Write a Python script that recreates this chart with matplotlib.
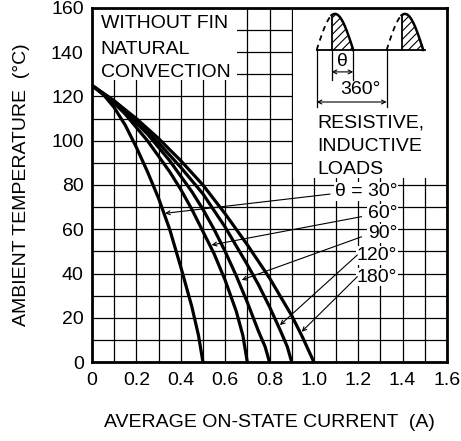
import numpy as np
import matplotlib.pyplot as plt
from matplotlib.patches import Rectangle

plt.rcParams['font.family'] = ['Liberation Sans', 'DejaVu Sans']
plt.rcParams['hatch.linewidth'] = 0.8

# curves: average on-state current (A) vs ambient temp (C)
current_30 = [0, .05, .1, .15, .2, .25, .3, .35, .4, .45, .48, .5]
temp_30 = [125, 121, 115, 107, 97, 86, 74, 60, 43, 25, 12, 0]

current_60 = [0, .05, .1, .15, .2, .25, .3, .35, .4, .45, .5, .55, .6, .65, .68, .7]
temp_60 = [125, 121, 117, 112, 106, 100, 93, 86, 78, 69, 59, 49, 37, 23, 12, 0]

current_90 = [0, .05, .1, .15, .2, .25, .3, .35, .4, .45, .5, .55, .6, .65, .7, .75, .78, .8]
temp_90 = [125, 121, 117, 113, 108, 103, 97, 91, 84, 77, 69, 60, 50, 39, 27, 14, 7, 0]

current_120 = [0, .1, .2, .3, .4, .5, .6, .7, .75, .8, .85, .88, .9]
temp_120 = [125, 118, 109, 99, 88, 76, 61, 44, 35, 25, 14, 7, 0]

current_180 = [0, .1, .2, .3, .4, .5, .6, .7, .8, .9, .95, 1.0]
temp_180 = [125, 118, 110, 101, 91, 80, 67, 53, 38, 21, 11, 0]

angle_labels = ['θ = 30°', '60°', '90°', '120°', '180°']
label_y = [77, 67.3, 58, 48.2, 38.4]
leader_start = [(1.073, 75.9), (1.215, 65.7), (1.215, 56.6), (1.196, 48.4), (1.196, 38.6)]
leader_tip = [(0.329, 67.2), (0.539, 52.9), (0.675, 37.1), (0.847, 16.7), (0.945, 13.7)]

fig = plt.figure(figsize=(4.61, 4.41), dpi=100)
ax = fig.add_axes([0.1996, 0.179, 0.77, 0.803])

ax.set_xlim(0, 1.6)
ax.set_ylim(0, 160)
ax.set_xticks(np.arange(0, 1.61, 0.2))
ax.set_xticklabels(['0', '0.2', '0.4', '0.6', '0.8', '1.0', '1.2', '1.4', '1.6'])
ax.set_xticks(np.arange(0, 1.61, 0.1), minor=True)
ax.set_yticks(np.arange(0, 161, 20))
ax.set_yticks(np.arange(0, 161, 10), minor=True)
ax.set_axisbelow(True)
ax.grid(which='both', color='black', lw=0.9)
ax.tick_params(which='both', length=0, labelsize=14)
ax.tick_params(axis='x', pad=7)
ax.tick_params(axis='y', pad=6)
for s in ax.spines.values():
    s.set_linewidth(2.0)

ax.set_xlabel('AVERAGE ON-STATE CURRENT  (A)', fontsize=14, labelpad=18)
ax.set_ylabel('AMBIENT TEMPERATURE  (°C)', fontsize=14, labelpad=15)

# white areas that hide the grid behind the notes
ax.add_patch(Rectangle((0, 127.5), 0.655, 32.5, facecolor='white', edgecolor='none', zorder=1))
ax.add_patch(Rectangle((0.905, 83), 0.695, 77, facecolor='white', edgecolor='none', zorder=1))

for cx, ty in [(current_30, temp_30), (current_60, temp_60), (current_90, temp_90),
               (current_120, temp_120), (current_180, temp_180)]:
    ax.plot(cx, ty, color='black', lw=2.3, zorder=3, solid_capstyle='butt')

ax.text(0.039, 152.8, 'WITHOUT FIN', fontsize=14, va='center', zorder=4)
ax.text(0.039, 141.0, 'NATURAL', fontsize=14, va='center', zorder=4)
ax.text(0.039, 130.8, 'CONVECTION', fontsize=14, va='center', zorder=4)

ax.text(1.014, 108, 'RESISTIVE,', fontsize=14, va='center', zorder=4)
ax.text(1.014, 97.6, 'INDUCTIVE', fontsize=14, va='center', zorder=4)
ax.text(1.014, 86.8, 'LOADS', fontsize=14, va='center', zorder=4)

for lab, yy, st, tp in zip(angle_labels, label_y, leader_start, leader_tip):
    ax.text(1.375, yy, lab, fontsize=14, ha='right', va='center', zorder=3,
            bbox=dict(facecolor='white', edgecolor='none', pad=0.6))
    ax.annotate('', xy=tp, xytext=st, zorder=4,
                arrowprops=dict(arrowstyle='->', lw=0.8, color='black',
                                shrinkA=0, shrinkB=0, mutation_scale=7))

# conduction angle sketch
base = 141.0
height = 16.3
width = 0.165
for x0 in [1.0126, 1.328]:
    xc = x0 + 0.0676
    xs = np.linspace(x0, xc, 30)
    ax.plot(xs, base + height * np.sin(np.pi * (xs - x0) / width),
            color='black', lw=1.3, ls=(0, (3, 2.5)), zorder=5)
    xh = np.linspace(xc, x0 + width, 40)
    yh = base + height * np.sin(np.pi * (xh - x0) / width)
    ax.plot(xh, yh, color='black', lw=1.8, zorder=5)
    ax.fill_between(xh, base, yh, facecolor='none', edgecolor='black',
                    hatch='////', lw=0, zorder=5)
    ax.plot([xc, xc], [base, yh[0]], color='black', lw=1.3, zorder=5)
ax.plot([1.0126, 1.5], [base, base], color='black', lw=1.3, zorder=5)

for xv, ybot in [(1.0126, 115.3), (1.328, 115.3), (1.0802, 127.5), (1.1776, 127.5)]:
    ax.plot([xv, xv], [base, ybot], color='black', lw=0.9, zorder=5)
ax.annotate('', xy=(1.0802, 131.1), xytext=(1.1776, 131.1), zorder=5,
            arrowprops=dict(arrowstyle='<->', lw=0.8, color='black',
                            shrinkA=0, shrinkB=0, mutation_scale=7))
ax.annotate('', xy=(1.0126, 117.5), xytext=(1.328, 117.5), zorder=5,
            arrowprops=dict(arrowstyle='<->', lw=0.8, color='black',
                            shrinkA=0, shrinkB=0, mutation_scale=7))
ax.text(1.128, 135.8, 'θ', fontsize=14, ha='center', va='center', zorder=5)
ax.text(1.208, 123.2, '360°', fontsize=14, ha='center', va='center', zorder=5)

fig.savefig('out.png', dpi=100)
